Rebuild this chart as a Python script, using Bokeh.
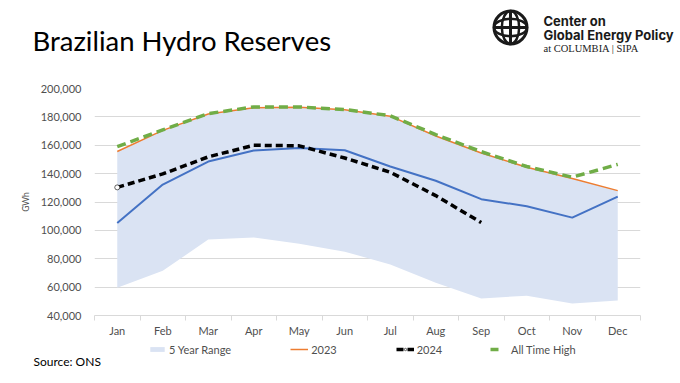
from bokeh.plotting import figure
from bokeh.layouts import column
from bokeh.models import (FixedTicker, NumeralTickFormatter, Legend, LegendItem,
                          Label, Range1d)
from bokeh.embed import file_html
from bokeh.resources import INLINE

months = ["Jan", "Feb", "Mar", "Apr", "May", "Jun", "Jul", "Aug", "Sep", "Oct", "Nov", "Dec"]
range_low = [59500, 71500, 93500, 95000, 90500, 85000, 76000, 63000, 52000, 54000, 48500, 50500]
range_high = [155600, 170500, 182000, 186500, 186800, 185000, 180500, 166500, 154500, 144500, 136500, 128000]
y2023 = [155600, 170500, 182000, 186500, 186800, 185000, 180500, 166500, 154500, 144500, 136500, 128000]
y2024 = [130300, 139800, 151800, 160000, 159600, 151000, 141000, 124500, 105500]
all_time_high = [159000, 170800, 182300, 187000, 187000, 185200, 180800, 167500, 155500, 145000, 137500, 146500]
other_year = [105200, 132300, 148500, 156300, 158000, 156500, 145000, 135000, 122000, 117000, 109000, 123800]
y_ticks = [40000, 60000, 80000, 100000, 120000, 140000, 160000, 180000, 200000]

xs = list(range(1, len(months) + 1))
bounds = [i + 0.5 for i in range(0, len(months) + 1)]
NAN = [float("nan")]  # legend keys carry no visible data

FONT = "Lato"
GREY = "#4f4f4f"
INK = "#1a1a1a"
W = 680

# series styles (shared by the chart and its legend keys)
S_RANGE = dict(fill_color="#DAE3F3")
S_2023 = dict(line_color="#ED7D31", line_width=1.5)
S_ATH = dict(line_color="#70AD47", line_width=3.5, line_dash="9 5")
S_2024 = dict(line_color="black", line_width=3.5, line_dash="7 4")
S_2024M = dict(size=5, fill_color="white", line_color="black", line_width=0.6)


def blank(height):
    f = figure(width=W, height=height, x_range=Range1d(0, W), y_range=Range1d(height, 0),
               min_border=0, x_axis_type=None, y_axis_type=None, output_backend="svg",
               toolbar_location=None, frame_align=False)
    f.outline_line_color = None
    f.xgrid.visible = False
    f.ygrid.visible = False
    return f


# ---------------- header (title + logo) ----------------
HH = 72
head = blank(HH)
head.add_layout(Label(x=32, y=39.5, text="Brazilian Hydro Reserves", text_font=FONT,
                      text_font_size="27.5px", text_color="black", text_baseline="alphabetic"))
cx, cy, rr = 510, 27, 16.5
head.ellipse(x=[cx], y=[cy], width=2 * rr, height=2 * rr, fill_color="white",
             line_color=INK, line_width=3)
head.ellipse(x=[cx], y=[cy], width=rr * 1.05, height=2 * rr, fill_color=None,
             line_color=INK, line_width=2.5)
head.ellipse(x=[cx], y=[cy], width=2 * rr, height=rr * 1.05, fill_color=None,
             line_color=INK, line_width=2.5)
head.segment(x0=[cx, cx - rr], y0=[cy - rr, cy], x1=[cx, cx + rr], y1=[cy + rr, cy],
             line_color=INK, line_width=3)
head.add_layout(Label(x=543, y=20, text="Center on", text_font="Inter",
                      text_font_size="13px", text_font_style="bold",
                      text_color=INK, text_baseline="alphabetic"))
head.add_layout(Label(x=543, y=34, text="Global Energy Policy", text_font="Inter",
                      text_font_size="13px", text_font_style="bold",
                      text_color=INK, text_baseline="alphabetic"))
head.add_layout(Label(x=543, y=47.5, text="at COLUMBIA | SIPA", text_font="Liberation Serif",
                      text_font_size="10.5px", text_color=INK, text_baseline="alphabetic"))

# ---------------- main chart ----------------
p = figure(frame_width=546, frame_height=227, min_border_left=94, min_border_right=40,
           min_border_top=16, min_border_bottom=25, output_backend="svg",
           toolbar_location=None, x_range=Range1d(0.5, 12.5), y_range=Range1d(40000, 200000),
           frame_align=False)
p.outline_line_color = None

xa = p.xaxis[0]
xa.ticker = FixedTicker(ticks=xs, minor_ticks=bounds)
xa.major_label_overrides = {x: m for x, m in zip(xs, months)}
xa.major_tick_line_color = None
xa.minor_tick_line_color = "#D9D9D9"
xa.minor_tick_in = 0
xa.minor_tick_out = 5
xa.axis_line_color = "#D9D9D9"
xa.major_label_standoff = 2
xa.major_label_text_font = FONT
xa.major_label_text_font_size = "11px"
xa.major_label_text_color = GREY

ya = p.yaxis[0]
ya.ticker = FixedTicker(ticks=y_ticks)
ya.formatter = NumeralTickFormatter(format="0,0")
ya.major_tick_line_color = None
ya.minor_tick_line_color = None
ya.axis_line_color = None
ya.major_label_standoff = 7
ya.major_label_text_font = FONT
ya.major_label_text_font_size = "11px"
ya.major_label_text_color = GREY
ya.axis_label = "GWh"
ya.axis_label_text_font = FONT
ya.axis_label_text_font_size = "8.5px"
ya.axis_label_text_font_style = "normal"
ya.axis_label_text_color = GREY
ya.axis_label_standoff = 7

p.xgrid.grid_line_color = None
p.ygrid.grid_line_color = "#D9D9D9"
p.ygrid.ticker = FixedTicker(ticks=y_ticks)

p.varea(x=xs, y1=range_low, y2=range_high, **S_RANGE)
p.line(xs, other_year, line_color="#4472C4", line_width=2)
p.line(xs, y2023, **S_2023)
p.line(xs, all_time_high, **S_ATH)
p.line(xs[:len(y2024)], y2024, **S_2024)
p.scatter(xs[:1], y2024[:1], **S_2024M)

# ---------------- footer (legend + source) ----------------
FH = 383 - HH - (16 + 227 + 25)
foot = blank(FH)
k_range = foot.varea(x=NAN, y1=NAN, y2=NAN, **S_RANGE)
k_2023 = foot.line(NAN, NAN, **S_2023)
k_2024 = foot.line(NAN, NAN, **S_2024)
k_2024m = foot.scatter(NAN, NAN, **S_2024M)
k_ath = foot.line(NAN, NAN, line_color="#70AD47", line_width=3.5, line_dash="8 14")

LEG = dict(orientation="horizontal", padding=0, margin=0, glyph_width=18, glyph_height=6,
           label_height=14, label_standoff=3, label_text_font=FONT,
           label_text_font_size="11px", label_text_color=GREY,
           background_fill_alpha=0, border_line_color=None)
legend1 = Legend(items=[LegendItem(label="5 Year Range", renderers=[k_range]),
                        LegendItem(label="2023", renderers=[k_2023]),
                        LegendItem(label="2024", renderers=[k_2024, k_2024m])],
                 location=(148, FH - 16), spacing=59, **LEG)
legend2 = Legend(items=[LegendItem(label="All Time High", renderers=[k_ath])],
                 location=(490, FH - 16), spacing=0, **LEG)
foot.add_layout(legend1)
foot.add_layout(legend2)
foot.add_layout(Label(x=33, y=FH - 22, text="Source: ONS", text_font=FONT,
                      text_font_size="12px", text_color="black", text_baseline="alphabetic"))

page = column(head, p, foot, spacing=0)
open("out.html", "w").write(file_html(page, INLINE))
